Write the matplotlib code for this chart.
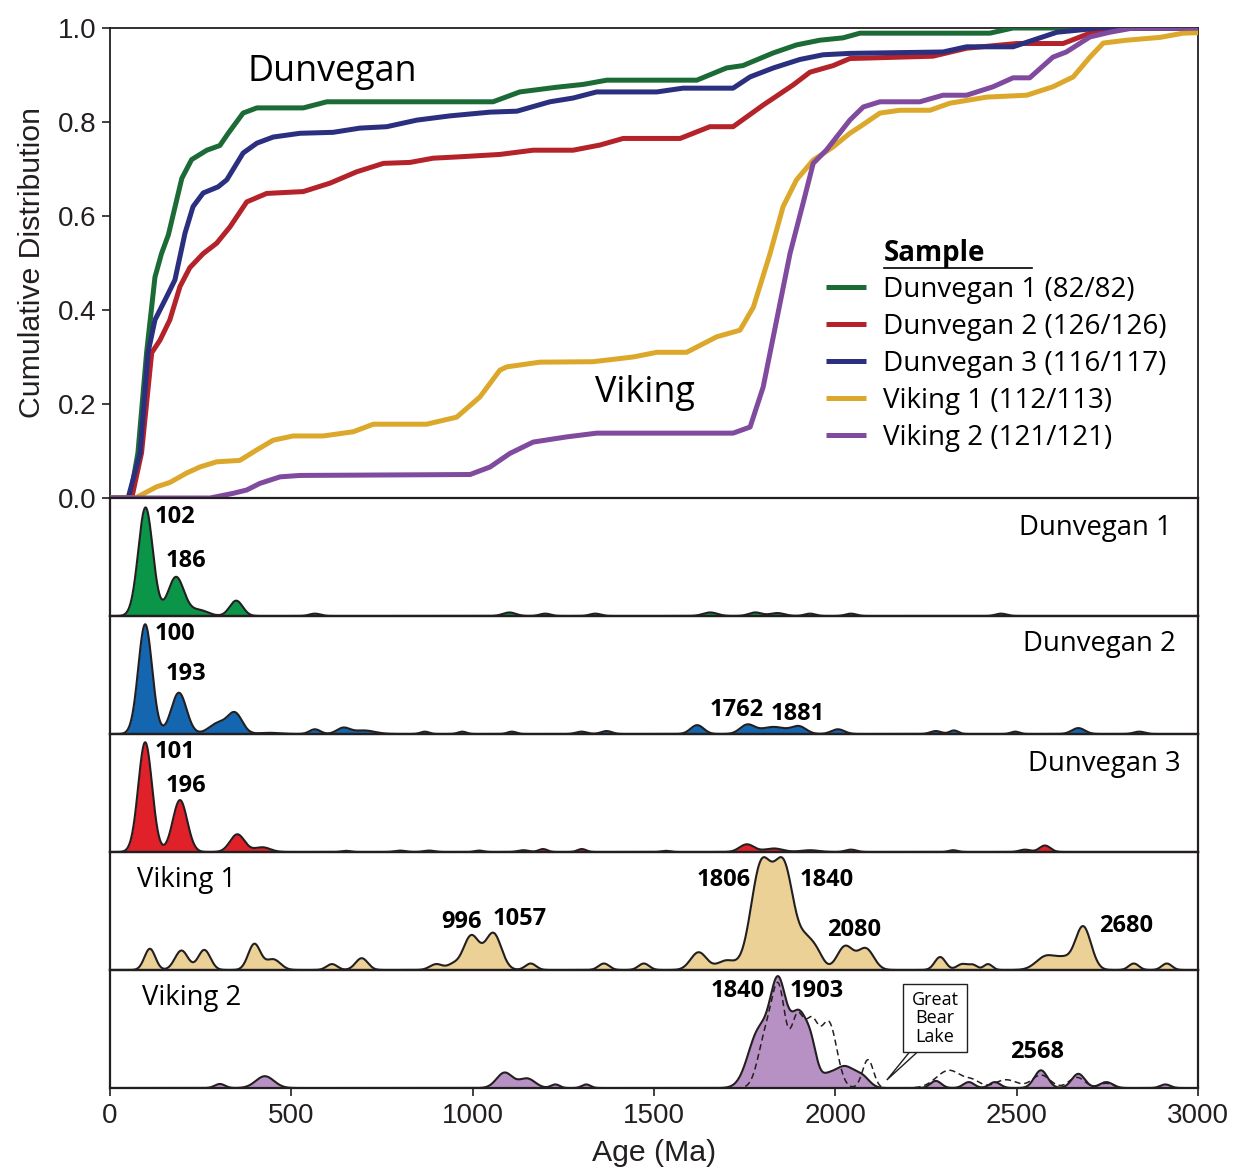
import numpy as np
import matplotlib
matplotlib.use("Agg")
import matplotlib.pyplot as plt
from matplotlib.patches import Polygon, Rectangle

plt.rcParams['font.family'] = ['Open Sans', 'DejaVu Sans']

# ---------------- cumulative distributions (age Ma, cumulative fraction) -------------
d1_age = [0, 55, 77, 101, 124, 142, 161, 198, 225, 267, 303, 326, 367, 405, 533, 598, 937, 1056,
          1130, 1232, 1305, 1370, 1618, 1700, 1745, 1829, 1893, 1957, 2021, 2068, 2426, 2490, 3000]
d1_cdf = [0, 0, 0.096, 0.31, 0.47, 0.52, 0.56, 0.68, 0.72, 0.74, 0.75, 0.776, 0.819, 0.83, 0.83,
          0.843, 0.843, 0.843, 0.864, 0.874, 0.88, 0.889, 0.889, 0.915, 0.92, 0.947, 0.964, 0.974,
          0.979, 0.989, 0.989, 1.0, 1.0]

d2_age = [0, 60, 87, 115, 138, 165, 193, 220, 257, 294, 331, 377, 432, 533, 607, 680, 754, 827, 891,
          965, 1075, 1167, 1277, 1351, 1415, 1572, 1654, 1718, 1801, 1884, 1930, 1994, 2040, 2269,
          2362, 2500, 2628, 2702, 2776, 3000]
d2_cdf = [0, 0, 0.096, 0.309, 0.336, 0.379, 0.45, 0.49, 0.52, 0.542, 0.577, 0.63, 0.648, 0.652,
          0.67, 0.694, 0.712, 0.714, 0.723, 0.726, 0.731, 0.74, 0.74, 0.751, 0.765, 0.765, 0.79,
          0.79, 0.836, 0.879, 0.906, 0.92, 0.935, 0.94, 0.957, 0.967, 0.967, 0.989, 1.0, 1.0]

d3_age = [0, 50, 83, 105, 124, 156, 179, 207, 229, 257, 298, 322, 367, 405, 450, 524, 615, 689, 763,
          846, 937, 1048, 1122, 1213, 1277, 1342, 1508, 1580, 1718, 1765, 1829, 1902, 1966, 2040,
          2297, 2362, 2490, 2611, 2730, 3000]
d3_cdf = [0, 0, 0.096, 0.31, 0.379, 0.428, 0.464, 0.564, 0.62, 0.649, 0.662, 0.677, 0.734, 0.755,
          0.768, 0.776, 0.778, 0.787, 0.79, 0.804, 0.813, 0.821, 0.823, 0.843, 0.851, 0.864, 0.864,
          0.872, 0.872, 0.896, 0.915, 0.933, 0.943, 0.946, 0.949, 0.96, 0.96, 0.991, 1.0, 1.0]

v1_age = [0, 70, 129, 165, 211, 248, 294, 358, 404, 450, 505, 588, 671, 726, 873, 956, 1020, 1075,
          1094, 1185, 1332, 1442, 1508, 1590, 1673, 1737, 1774, 1820, 1856, 1893, 1939, 1994, 2040,
          2068, 2123, 2178, 2261, 2316, 2418, 2528, 2600, 2656, 2702, 2739, 2803, 2895, 2959, 3000]
v1_cdf = [0, 0, 0.024, 0.033, 0.053, 0.066, 0.077, 0.08, 0.102, 0.123, 0.132, 0.132, 0.141, 0.157,
          0.157, 0.172, 0.215, 0.272, 0.279, 0.289, 0.29, 0.3, 0.31, 0.31, 0.343, 0.357, 0.406,
          0.52, 0.62, 0.677, 0.719, 0.747, 0.776, 0.79, 0.819, 0.825, 0.825, 0.84, 0.853, 0.857,
          0.875, 0.896, 0.938, 0.968, 0.974, 0.98, 0.989, 0.99]

v2_age = [0, 276, 340, 377, 413, 469, 524, 993, 1048, 1103, 1167, 1259, 1342, 1718, 1765, 1801,
          1838, 1875, 1911, 1939, 1975, 2040, 2077, 2123, 2233, 2297, 2362, 2435, 2490, 2536, 2600,
          2637, 2702, 2757, 2821, 3000]
v2_cdf = [0, 0, 0.01, 0.017, 0.031, 0.045, 0.048, 0.05, 0.066, 0.095, 0.119, 0.13, 0.138, 0.138,
          0.151, 0.236, 0.378, 0.52, 0.627, 0.712, 0.74, 0.804, 0.832, 0.843, 0.843, 0.857, 0.857,
          0.875, 0.894, 0.894, 0.938, 0.949, 0.981, 0.991, 1.0, 1.0]

sample_names = ["Dunvegan 1", "Dunvegan 2", "Dunvegan 3", "Viking 1", "Viking 2"]
legend_labels = ["Dunvegan 1 (82/82)", "Dunvegan 2 (126/126)", "Dunvegan 3 (116/117)",
                 "Viking 1 (112/113)", "Viking 2 (121/121)"]
cdf_colors = ["#1c6b37", "#b5232a", "#2b2f7f", "#dca82b", "#804a9e"]
kde_colors = ["#0b9548", "#1466b0", "#e0212a", "#ecd196", "#b790c4"]

# ---------------- density components (mode age, relative height, bandwidth) ----------
d1_mode = [98, 182, 245, 348, 565, 1101, 1200, 1338, 1655, 1779, 1840, 1930, 2043, 2457]
d1_h = [0.92, 0.33, 0.05, 0.13, 0.02, 0.03, 0.02, 0.02, 0.03, 0.03, 0.025, 0.02, 0.02, 0.02]
d1_bw = [20, 22, 25, 18, 15, 18, 15, 15, 20, 18, 20, 15, 15, 15]

d2_mode = [97, 190, 298, 345, 440, 565, 643, 700, 868, 971, 1108, 1300, 1369, 1619, 1757, 1830,
           1900, 2007, 2277, 2327, 2496, 2670, 2838]
d2_h = [0.93, 0.35, 0.09, 0.17, 0.01, 0.04, 0.05, 0.03, 0.02, 0.02, 0.02, 0.02, 0.025, 0.075,
        0.075, 0.06, 0.06, 0.04, 0.025, 0.03, 0.02, 0.05, 0.02]
d2_bw = [19, 21, 25, 20, 30, 15, 18, 30, 12, 12, 12, 15, 15, 18, 20, 35, 20, 18, 15, 12, 12, 18, 15]

d3_mode = [97, 193, 351, 420, 650, 800, 880, 1018, 1140, 1194, 1301, 1532, 1756, 1830, 1930,
           2043, 2325, 2523, 2578]
d3_h = [0.93, 0.44, 0.15, 0.04, 0.01, 0.012, 0.012, 0.012, 0.015, 0.025, 0.025, 0.01, 0.065,
        0.03, 0.015, 0.02, 0.015, 0.02, 0.055]
d3_bw = [19, 20, 20, 22, 12, 15, 15, 12, 15, 12, 12, 12, 20, 25, 25, 15, 12, 15, 15]

v1_mode = [110, 197, 260, 398, 450, 612, 694, 900, 945, 996, 1057, 1160, 1362, 1472, 1623, 1700,
           1795, 1858, 1920, 1950, 2027, 2084, 2289, 2350, 2380, 2421, 2583, 2630, 2683, 2823, 2914]
v1_h = [0.18, 0.165, 0.17, 0.22, 0.09, 0.05, 0.10, 0.05, 0.04, 0.29, 0.31, 0.055, 0.055, 0.055,
        0.15, 0.08, 0.865, 0.865, 0.2, 0.12, 0.2, 0.18, 0.11, 0.05, 0.04, 0.05, 0.12, 0.07, 0.37,
        0.055, 0.055]
v1_bw = [15, 18, 17, 17, 20, 15, 17, 18, 15, 22, 22, 15, 15, 15, 22, 25, 28, 28, 20, 18, 22, 22,
         15, 15, 12, 12, 28, 20, 22, 14, 14]

v2_mode = [303, 427, 1088, 1150, 1228, 1313, 1790, 1843, 1900, 1935, 1975, 2025, 2075, 2277, 2368,
           2440, 2567, 2670, 2747, 2910]
v2_h = [0.034, 0.10, 0.13, 0.08, 0.03, 0.03, 0.48, 0.80, 0.62, 0.2, 0.08, 0.18, 0.08, 0.06, 0.05,
        0.05, 0.15, 0.12, 0.05, 0.03]
v2_bw = [14, 25, 22, 22, 12, 12, 30, 22, 25, 15, 20, 28, 20, 15, 15, 15, 18, 18, 18, 14]

gbl_mode = [1810, 1845, 1895, 1935, 1982, 2090, 2314, 2380, 2471, 2567, 2666, 2747]
gbl_h = [0.45, 0.74, 0.58, 0.5, 0.55, 0.24, 0.15, 0.05, 0.07, 0.11, 0.09, 0.04]
gbl_bw = [22, 18, 18, 18, 22, 15, 35, 20, 30, 25, 22, 18]

peak_labels = [
    [("102", 124, 0.84, 'left'), ("186", 152, 0.47, 'left')],
    [("100", 124, 0.85, 'left'), ("193", 152, 0.51, 'left'),
     ("1762", 1729, 0.20, 'center'), ("1881", 1897, 0.17, 'center')],
    [("101", 124, 0.85, 'left'), ("196", 152, 0.56, 'left')],
    [("996", 970, 0.41, 'center'), ("1057", 1130, 0.43, 'center'), ("1806", 1693, 0.76, 'center'),
     ("1840", 1977, 0.76, 'center'), ("2080", 2051, 0.34, 'center'), ("2680", 2801, 0.37, 'center')],
    [("1840", 1731, 0.82, 'center'), ("1903", 1949, 0.82, 'center'), ("2568", 2556, 0.305, 'center')],
]

# ---------------------------------------------------------------------------------------
ink = "#231f20"
W, H = 1234, 1167
fig = plt.figure(figsize=(W / 100, H / 100), dpi=100)


def px_axes(left, top, right, bottom):
    return fig.add_axes([left / W, 1 - bottom / H, (right - left) / W, (bottom - top) / H])


ax0 = px_axes(110, 28, 1198, 498)
kax = [px_axes(110, 498 + 118 * i, 1198, 616 + 118 * i) for i in range(5)]

tickfont = dict(family='Liberation Sans', size=20, color=ink)
labelfont = dict(family='Liberation Sans', size=21.8, color=ink)

# CDF panel
cdfs = [(d1_age, d1_cdf), (d2_age, d2_cdf), (d3_age, d3_cdf), (v1_age, v1_cdf), (v2_age, v2_cdf)]
handles = []
for (a, c), col, lab in zip(cdfs, cdf_colors, legend_labels):
    ln, = ax0.plot(a, c, color=col, lw=3.6, solid_joinstyle='round', solid_capstyle='butt',
                   label=lab, zorder=3)
    handles.append(ln)
ax0.set_xlim(0, 3000)
ax0.set_ylim(0, 1.0)
ax0.set_yticks([0, 0.2, 0.4, 0.6, 0.8, 1.0])
ax0.set_yticklabels(["0.0", "0.2", "0.4", "0.6", "0.8", "1.0"], fontdict=tickfont)
ax0.tick_params(axis='y', direction='out', length=6, width=1.2, color=ink, pad=4)
ax0.tick_params(axis='x', bottom=False, labelbottom=False)
ax0.set_ylabel("Cumulative Distribution", fontdict=labelfont, labelpad=8)
for s in ax0.spines.values():
    s.set_color(ink)
    s.set_linewidth(1.3)

ax0.text(380, 0.906, "Dunvegan", fontsize=25.8, va='center', ha='left', color='black')
ax0.text(1337, 0.223, "Viking", fontsize=25.8, va='center', ha='left', color='black')

leg = ax0.legend(handles, legend_labels, loc='upper left',
                 bbox_to_anchor=((826 - 110) / 1088, (498 - 276) / 470),
                 frameon=False, borderpad=0, borderaxespad=0, handlelength=1.45,
                 handletextpad=0.6, labelspacing=0.32,
                 prop={'family': 'Open Sans', 'size': 20})
ax0.text((884 - 110) / 1088, (498 - 253) / 470, "Sample", transform=ax0.transAxes,
         fontsize=20, fontweight='bold', va='center', ha='left')
ax0.plot([(884 - 110) / 1088, (1032 - 110) / 1088], [(498 - 268) / 470] * 2,
         transform=ax0.transAxes, color='black', lw=1.2)

# KDE panels
grid = np.linspace(0, 3000, 3001)


def kde(modes, hs, bws):
    y = np.zeros_like(grid)
    for m, h, b in zip(modes, hs, bws):
        y += h * np.exp(-0.5 * ((grid - m) / b) ** 2)
    return y


comps = [(d1_mode, d1_h, d1_bw), (d2_mode, d2_h, d2_bw), (d3_mode, d3_h, d3_bw),
         (v1_mode, v1_h, v1_bw), (v2_mode, v2_h, v2_bw)]
for i, ax in enumerate(kax):
    y = kde(*comps[i])
    ax.fill_between(grid, 0, y, color=kde_colors[i], lw=0, zorder=2)
    ax.plot(grid, y, color=ink, lw=1.5, zorder=3)
    ax.set_xlim(0, 3000)
    ax.set_ylim(0, 1.0)
    ax.set_yticks([])
    for s in ax.spines.values():
        s.set_color(ink)
        s.set_linewidth(1.6)
    for txt, xa, ya, ha in peak_labels[i]:
        ax.text(xa, ya, txt, fontsize=17, fontweight='bold', ha=ha, va='center', zorder=5)
    if i < 4:
        ax.tick_params(axis='x', bottom=False, labelbottom=False)
    ax.set_facecolor('none')

# sample names
kax[0].text(2928, 0.75, sample_names[0], fontsize=19.8, ha='right', va='center')
kax[1].text(2939, 0.76, sample_names[1], fontsize=19.8, ha='right', va='center')
kax[2].text(2953, 0.75, sample_names[2], fontsize=19.8, ha='right', va='center')
kax[3].text(74, 0.76, sample_names[3], fontsize=19.8, ha='left', va='center')
kax[4].text(88, 0.76, sample_names[4], fontsize=19.8, ha='left', va='center')

# Great Bear Lake reference
axg = kax[4]
yg = kde(gbl_mode, gbl_h, gbl_bw)
axg.plot(grid, yg, color=ink, lw=1.1, ls=(0, (4, 2.5)), zorder=4)
axg.add_patch(Polygon([(2206, 0.31), (2142, 0.068), (2228, 0.31)], closed=False,
                      facecolor='white', edgecolor=ink, lw=1.0, zorder=6))
axg.add_patch(Rectangle((2186, 0.305), 177, 0.575, facecolor='white', edgecolor=ink,
                        lw=1.0, zorder=7))
axg.text(2274.5, 0.59, "Great\nBear\nLake", fontsize=13, ha='center', va='center',
         linespacing=1.02, zorder=8)

# bottom axis
axb = kax[4]
axb.set_xticks([0, 500, 1000, 1500, 2000, 2500, 3000])
axb.set_xticklabels(["0", "500", "1000", "1500", "2000", "2500", "3000"], fontdict=tickfont)
axb.tick_params(axis='x', direction='out', length=6, width=1.2, color=ink, pad=5)
axb.set_xlabel("Age (Ma)", fontdict=labelfont, labelpad=7)

fig.savefig("out.png", dpi=100)
